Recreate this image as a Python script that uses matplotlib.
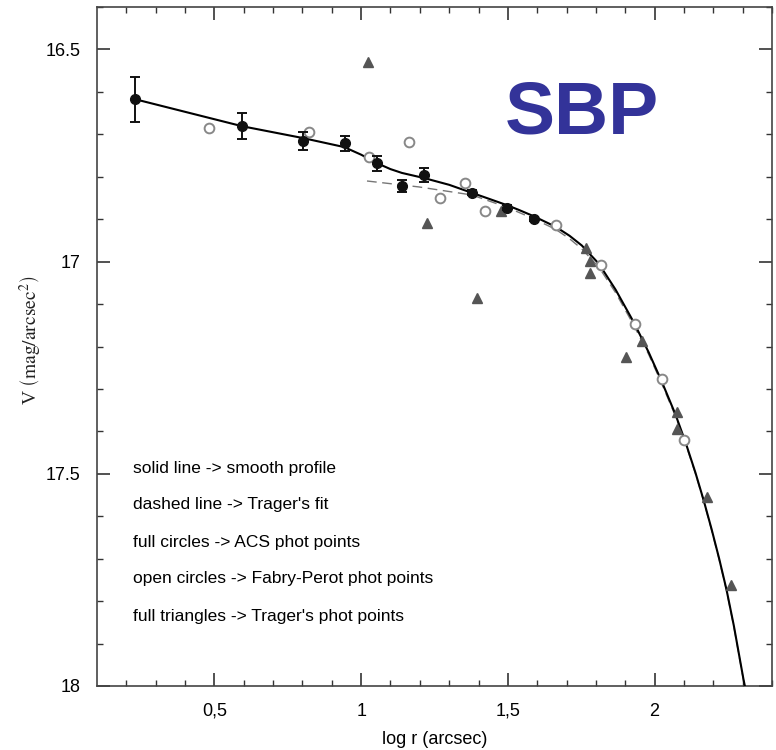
import matplotlib
matplotlib.use("Agg")
import matplotlib.pyplot as plt
import numpy as np

plt.rcParams['font.family'] = ['Liberation Sans', 'DejaVu Sans']
plt.rcParams['mathtext.fontset'] = 'stix'

# ACS photometry (full circles) with errors
acs_x = [0.228, 0.595, 0.803, 0.946, 1.054, 1.139, 1.214, 1.378, 1.497, 1.588]
acs_y = [16.617, 16.681, 16.716, 16.721, 16.768, 16.822, 16.796, 16.838, 16.873, 16.899]
acs_err = [0.053, 0.031, 0.022, 0.018, 0.018, 0.015, 0.016, 0.006, 0.006, 0.005]

# Fabry-Perot photometry (open circles)
fp_x = [0.483, 0.823, 1.027, 1.163, 1.269, 1.354, 1.422, 1.663, 1.816, 1.932, 2.024, 2.099]
fp_y = [16.685, 16.695, 16.754, 16.718, 16.849, 16.815, 16.880, 16.913, 17.007, 17.148, 17.277, 17.420]

# Trager's photometry (full triangles)
tr_x = [1.024, 1.224, 1.395, 1.476, 1.765, 1.779, 1.779, 1.901, 1.956, 2.078, 2.078, 2.177, 2.259]
tr_y = [16.530, 16.908, 17.085, 16.880, 16.967, 16.998, 17.026, 17.225, 17.188, 17.354, 17.394, 17.554, 17.763]

# Smooth profile (solid line)
sm_x = [0.228, 0.595, 0.803, 0.942, 1.000, 1.054, 1.100, 1.139, 1.214, 1.300, 1.378, 1.440,
        1.497, 1.537, 1.588, 1.663, 1.710, 1.752, 1.810, 1.867, 1.929, 1.980, 2.024, 2.071,
        2.105, 2.139, 2.167, 2.194, 2.220, 2.245, 2.270, 2.303, 2.310, 2.315]
sm_y = [16.617, 16.681, 16.709, 16.730, 16.748, 16.768, 16.782, 16.791, 16.803, 16.819, 16.838, 16.853,
        16.867, 16.878, 16.893, 16.918, 16.939, 16.962, 17.005, 17.066, 17.143, 17.214, 17.282, 17.360,
        17.425, 17.497, 17.562, 17.630, 17.700, 17.773, 17.858, 17.985, 18.008, 18.025]

# Trager's fit (dashed line)
tf_x = [1.020, 1.197, 1.378, 1.497, 1.588, 1.663, 1.710, 1.752, 1.810, 1.867, 1.929, 1.980,
        2.024, 2.071, 2.105, 2.139, 2.167, 2.194, 2.220, 2.245, 2.270, 2.303, 2.315]
tf_y = [16.810, 16.824, 16.843, 16.872, 16.899, 16.924, 16.946, 16.970, 17.013, 17.073, 17.150, 17.219,
        17.287, 17.364, 17.428, 17.499, 17.564, 17.632, 17.702, 17.775, 17.860, 17.987, 18.027]

legend_lines = ["solid line -> smooth profile",
                "dashed line -> Trager's fit",
                "full circles -> ACS phot points",
                "open circles -> Fabry-Perot phot points",
                "full triangles -> Trager's phot points"]

fig = plt.figure(figsize=(7.76, 7.5), dpi=100)
ax = fig.add_axes([97/776, 1 - 686/750, (772 - 97)/776, (686 - 7)/750])

ax.plot(tf_x, tf_y, color='#777777', lw=1.0, ls=(0, (7, 4)), zorder=2)
ax.plot(sm_x, sm_y, color='black', lw=1.5, zorder=3)
ax.errorbar(acs_x, acs_y, yerr=acs_err, fmt='o', color='#111111', ms=7,
            elinewidth=1.4, capsize=3.5, capthick=1.4, zorder=5)
ax.plot(fp_x, fp_y, 'o', mfc='white', mec='#888888', mew=1.4, ms=7, zorder=4)
ax.plot(tr_x, tr_y, '^', color='#555555', ms=7, zorder=4)

ax.set_xlim(0.1, 2.4)
ax.set_ylim(18.0, 16.4)
ax.set_xticks([0.5, 1.0, 1.5, 2.0])
ax.set_xticklabels(['0,5', '1', '1,5', '2'])
ax.set_xticks(np.arange(0.2, 2.41, 0.1), minor=True)
ax.set_yticks([16.5, 17.0, 17.5, 18.0])
ax.set_yticklabels(['16.5', '17', '17.5', '18'])
ax.set_yticks(np.arange(16.4, 18.0, 0.1), minor=True)
ax.tick_params(which='both', direction='in', top=True, right=True, labelsize=13, color='#333333')
ax.tick_params(which='major', length=9.5, width=1.2)
ax.tick_params(which='minor', length=4.5, width=1.0)
ax.tick_params(axis='y', pad=12)
ax.tick_params(axis='x', pad=12)
for s in ax.spines.values():
    s.set_color('#444444')
    s.set_linewidth(1.2)

ax.set_xlabel('log r (arcsec)', fontsize=13, labelpad=8)
fig.text(30/776, 1 - 340/750, r'V $\left(\mathrm{mag/arcsec^2}\right)$', rotation=90,
         fontsize=14, family='Liberation Serif', ha='center', va='center', color='#222222')

for i, t in enumerate(legend_lines):
    fig.text(133/776, 1 - (468 + i*37)/750, t, fontsize=12.5, ha='left', va='center')

fig.text(505/776, 1 - 133/750, 'SBP', fontsize=54, fontweight='bold', color='#333399',
         ha='left', va='baseline')

fig.savefig('out.png', dpi=100)
